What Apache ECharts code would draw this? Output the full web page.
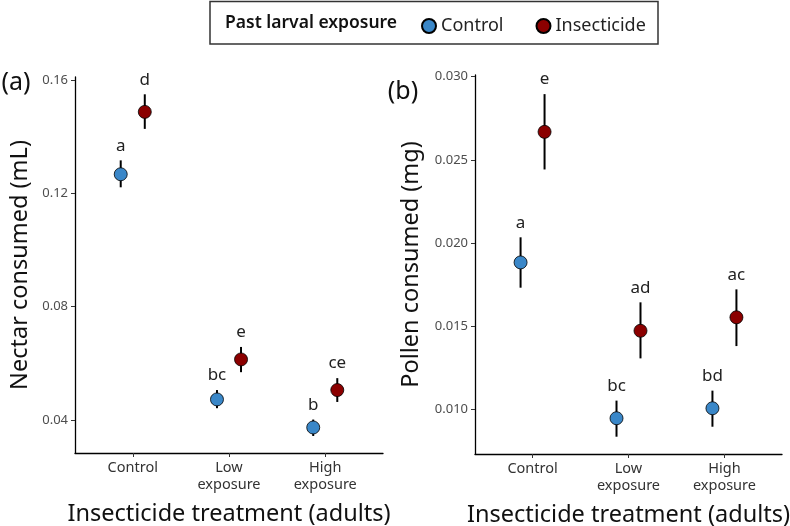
<!DOCTYPE html>
<html>
<head>
<meta charset="utf-8">
<script src="https://cdn.jsdelivr.net/npm/echarts@6/dist/echarts.min.js"></script>
<style>html,body{margin:0;padding:0;background:#fff}#c{width:790px;height:526px}</style>
</head>
<body>
<div id="c"></div>
<script>
const categories = ['Control', 'Low\nexposure', 'High\nexposure'];
const groupNames = ['Control', 'Insecticide'];

const nectarControl   = [0.1267, 0.0473, 0.0374];
const nectarControlLo = [0.1221, 0.0442, 0.0344];
const nectarControlHi = [0.1316, 0.0506, 0.0402];
const nectarInsect    = [0.1487, 0.0614, 0.0506];
const nectarInsectLo  = [0.1427, 0.0569, 0.0464];
const nectarInsectHi  = [0.1549, 0.0658, 0.0548];
const nectarLettersControl = ['a', 'bc', 'b'];
const nectarLettersInsect  = ['d', 'e', 'ce'];

const pollenControl   = [0.01883, 0.00946, 0.01006];
const pollenControlLo = [0.01731, 0.00835, 0.00895];
const pollenControlHi = [0.02034, 0.01052, 0.01112];
const pollenInsect    = [0.02668, 0.01472, 0.01553];
const pollenInsectLo  = [0.02442, 0.01306, 0.01380];
const pollenInsectHi  = [0.02895, 0.01643, 0.01721];
const pollenLettersControl = ['a', 'bc', 'bd'];
const pollenLettersInsect  = ['e', 'ad', 'ac'];

const nectarTicks = [0.04, 0.08, 0.12, 0.16];
const pollenTicks = [0.010, 0.015, 0.020, 0.025, 0.030];

const FONT = '"Noto Sans", "Open Sans", sans-serif';
const BLUE = '#3a87c8';
const RED = '#8b0000';
const DODGE = 0.125;

function errSeries(name, gi, lo, hi, letters, dodge) {
  return {
    type: 'custom', name: name, xAxisIndex: gi, yAxisIndex: gi, z: 2,
    data: lo.map((v, i) => [i, v, hi[i]]),
    encode: { x: 0, y: [1, 2] },
    renderItem: function (params, api) {
      const i = api.value(0);
      const x = i + dodge;
      const p1 = api.coord([x, api.value(1)]);
      const p2 = api.coord([x, api.value(2)]);
      return {
        type: 'group',
        children: [
          { type: 'line', shape: { x1: p1[0], y1: p1[1], x2: p2[0], y2: p2[1] },
            style: { stroke: '#000', lineWidth: 2 } },
          { type: 'text', x: p2[0], y: p2[1] - 14.5,
            style: { text: letters[i], textAlign: 'center', textVerticalAlign: 'middle',
                     fontFamily: FONT, fontSize: 17, fill: '#222' } }
        ]
      };
    }
  };
}

function ptSeries(name, gi, vals, dodge, color) {
  return {
    type: 'scatter', name: name, xAxisIndex: gi, yAxisIndex: gi, z: 3,
    symbol: 'circle', symbolSize: 13,
    itemStyle: { color: color, borderColor: '#000', borderWidth: 0.8, opacity: 1 },
    data: vals.map((v, i) => [i + dodge, v])
  };
}

function xAxisDef(gi) {
  return {
    type: 'value', gridIndex: gi, min: -0.6, max: 2.6,
    name: 'Insecticide treatment (adults)', nameLocation: 'middle', nameGap: 49,
    nameTextStyle: { fontFamily: FONT, fontSize: 23.5, color: '#111' },
    axisLine: { show: true, onZero: false, lineStyle: { color: '#000', width: 1.3 } },
    axisTick: { show: true, length: 4, lineStyle: { color: '#333' }, customValues: [0, 1, 2] },
    axisLabel: { customValues: [0, 1, 2], formatter: v => categories[Math.round(v)],
                 fontFamily: FONT, fontSize: 14.5, color: '#333', lineHeight: 17, margin: 6 },
    splitLine: { show: false }
  };
}

function yAxisDef(gi, min, max, ticks, digits, name, gap) {
  return {
    type: 'value', gridIndex: gi, min: min, max: max,
    name: name, nameLocation: 'middle', nameGap: gap,
    nameTextStyle: { fontFamily: FONT, fontSize: 23.5, color: '#111' },
    axisLine: { show: true, onZero: false, lineStyle: { color: '#000', width: 1.3 } },
    axisTick: { show: true, length: 4, lineStyle: { color: '#333' }, customValues: ticks },
    axisLabel: { customValues: ticks, formatter: v => v.toFixed(digits),
                 fontFamily: FONT, fontSize: 13, color: '#4d4d4d', margin: 7 },
    splitLine: { show: false }
  };
}

const chart = echarts.init(document.getElementById('c'), null, { renderer: 'canvas' });
chart.setOption({
  animation: false,
  backgroundColor: '#fff',
  grid: [
    { left: 75, right: 407, top: 77, bottom: 73, containLabel: false, outerBoundsMode: 'none' },
    { left: 475, right: 8, top: 75, bottom: 72, containLabel: false, outerBoundsMode: 'none' }
  ],
  xAxis: [xAxisDef(0), xAxisDef(1)],
  yAxis: [
    yAxisDef(0, 0.0284, 0.161, nectarTicks, 2, 'Nectar consumed (mL)', 43),
    yAxisDef(1, 0.00731, 0.0301, pollenTicks, 3, 'Pollen consumed (mg)', 52)
  ],
  legend: {
    data: groupNames, left: 416, top: 12, itemWidth: 14, itemHeight: 14, itemGap: 32,
    icon: 'circle', textStyle: { fontFamily: FONT, fontSize: 18, color: '#222' }
  },
  graphic: [
    { type: 'rect', shape: { x: 210, y: 1.5, width: 448, height: 42.5 },
      style: { fill: 'none', stroke: '#333', lineWidth: 1.5 } },
    { type: 'text', x: 225, y: 23.5,
      style: { text: 'Past larval exposure', fontFamily: FONT, fontSize: 17.5, fontWeight: 600,
               fill: '#111', textVerticalAlign: 'middle' } },
    { type: 'text', x: 16, y: 83,
      style: { text: '(a)', fontFamily: FONT, fontSize: 25, fill: '#111', textAlign: 'center', textVerticalAlign: 'middle' } },
    { type: 'text', x: 403, y: 92,
      style: { text: '(b)', fontFamily: FONT, fontSize: 25, fill: '#111', textAlign: 'center', textVerticalAlign: 'middle' } }
  ],
  series: [
    errSeries('nectarErrC', 0, nectarControlLo, nectarControlHi, nectarLettersControl, -DODGE),
    errSeries('nectarErrI', 0, nectarInsectLo, nectarInsectHi, nectarLettersInsect, DODGE),
    ptSeries('Control', 0, nectarControl, -DODGE, BLUE),
    ptSeries('Insecticide', 0, nectarInsect, DODGE, RED),
    errSeries('pollenErrC', 1, pollenControlLo, pollenControlHi, pollenLettersControl, -DODGE),
    errSeries('pollenErrI', 1, pollenInsectLo, pollenInsectHi, pollenLettersInsect, DODGE),
    ptSeries('Control', 1, pollenControl, -DODGE, BLUE),
    ptSeries('Insecticide', 1, pollenInsect, DODGE, RED)
  ]
});
</script>
</body>
</html>
